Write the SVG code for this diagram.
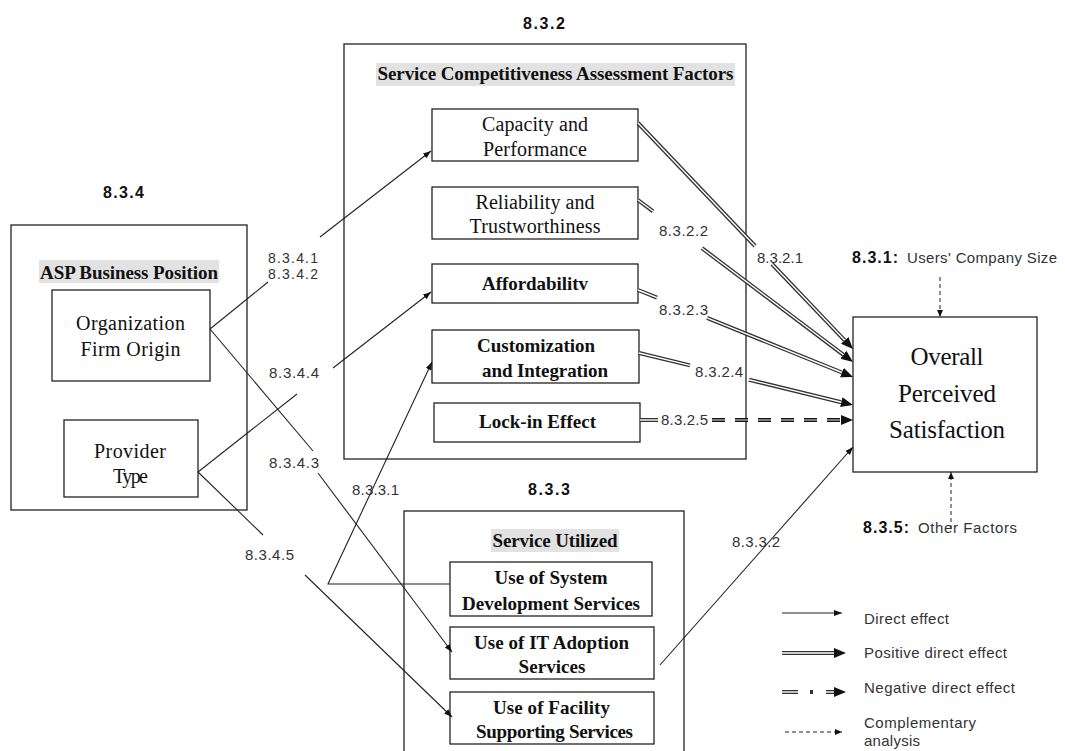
<svg xmlns="http://www.w3.org/2000/svg" width="1065" height="751" viewBox="0 0 1065 751">
  <style>
    .frame { fill: none; stroke: #222; stroke-width: 1.3; }
    .box { fill: #fff; stroke: #222; stroke-width: 1.3; }
    .hl { fill: #e2e2e2; }
    .serif { font-family: "Liberation Serif", "Times New Roman", serif; fill: #111; text-anchor: middle; }
    .sr { font-size: 20px; }
    .sb { font-size: 19px; font-weight: bold; }
    .big { font-size: 25px; }
    .title { font-family: "Liberation Sans", Arial, sans-serif; font-weight: bold; font-size: 16px; fill: #111; }
    .mid { text-anchor: middle; }
    .lbl { font-family: "Liberation Sans", Arial, sans-serif; font-size: 15px; fill: #333; }
    .lbs { font-family: "Liberation Sans", Arial, sans-serif; font-size: 14px; fill: #333; }
    .thin { fill: none; stroke: #222; stroke-width: 1.1; }
    .dblo { fill: none; stroke: #333; stroke-width: 4; }
    .dbli { fill: none; stroke: #fff; stroke-width: 1.4; }
    .nego { fill: none; stroke: #111; stroke-width: 4; stroke-dasharray: 13 10; }
    .negi { fill: none; stroke: #fff; stroke-width: 0.9; stroke-dasharray: 13 10; }
    .comp { fill: none; stroke: #222; stroke-width: 1; stroke-dasharray: 4 3; }
  </style>
  <defs>
    <!-- small head, tip sits on the path end -->
    <marker id="ah" markerUnits="userSpaceOnUse" markerWidth="9" markerHeight="7" refX="8" refY="3" orient="auto">
      <path d="M0,0 L8,3 L0,6 z" fill="#111"/>
    </marker>
    <!-- large head, base sits on the path end -->
    <marker id="ahBig" markerUnits="userSpaceOnUse" markerWidth="13" markerHeight="11" refX="0" refY="5" orient="auto">
      <path d="M0,0 L12,5 L0,10 z" fill="#111"/>
    </marker>
    <!-- head for the dashed complementary lines -->
    <marker id="ahs" markerUnits="userSpaceOnUse" markerWidth="8" markerHeight="7" refX="7" refY="3" orient="auto">
      <path d="M0,0 L7,3 L0,6 z" fill="#111"/>
    </marker>
  </defs>

  <rect width="1065" height="751" fill="#fff"/>

  <!-- 8.3.2 : service competitiveness factors -->
  <g id="sec-832">
    <text class="title mid" x="544" y="29" textLength="42">8.3.2</text>
    <rect class="frame" x="344" y="44" width="402" height="415"/>
    <rect class="hl" x="376" y="63" width="359" height="23"/>
    <text class="serif sb" x="555.5" y="80" textLength="356">Service Competitiveness Assessment Factors</text>
  </g>
  <g id="capacity">
    <rect class="box" x="432" y="109" width="206" height="52"/>
    <text class="serif sr" x="535" y="131" textLength="106">Capacity and</text>
    <text class="serif sr" x="535" y="156" textLength="104">Performance</text>
  </g>
  <g id="reliability">
    <rect class="box" x="432" y="187" width="206" height="52"/>
    <text class="serif sr" x="535" y="209" textLength="119">Reliability and</text>
    <text class="serif sr" x="535" y="233" textLength="131">Trustworthiness</text>
  </g>
  <g id="affordability">
    <rect class="box" x="432" y="264" width="206" height="39"/>
    <text class="serif sb" x="535" y="290" textLength="106">Affordabilitv</text>
  </g>
  <g id="customization">
    <rect class="box" x="432" y="330" width="207" height="53"/>
    <text class="serif sb" x="536" y="352" textLength="118">Customization</text>
    <text class="serif sb" x="545" y="377" textLength="126">and Integration</text>
  </g>
  <g id="lockin">
    <rect class="box" x="434" y="403" width="206" height="39"/>
    <text class="serif sb" x="537.5" y="428" textLength="117">Lock-in Effect</text>
  </g>

  <!-- 8.3.4 : ASP business position -->
  <g id="sec-834">
    <text class="title mid" x="123.5" y="198" textLength="41">8.3.4</text>
    <rect class="frame" x="11" y="225" width="236" height="285"/>
    <rect class="hl" x="39" y="260" width="180" height="23"/>
    <text class="serif sb" x="129" y="279" textLength="178">ASP Business Position</text>
  </g>
  <g id="organization">
    <rect class="box" x="52" y="290" width="158" height="91"/>
    <text class="serif sr" x="130.5" y="330" textLength="109">Organization</text>
    <text class="serif sr" x="130.5" y="356" textLength="100">Firm Origin</text>
  </g>
  <g id="provider">
    <rect class="box" x="64" y="420" width="134" height="77"/>
    <text class="serif sr" x="130" y="458" textLength="72">Provider</text>
    <text class="serif sr" x="130.5" y="483" textLength="35">Type</text>
  </g>

  <!-- 8.3.3 : service utilized -->
  <g id="sec-833">
    <text class="title mid" x="549" y="495" textLength="42">8.3.3</text>
    <rect class="frame" x="404" y="511" width="280" height="260"/>
    <rect class="hl" x="491" y="529" width="128" height="23"/>
    <text class="serif sb" x="555" y="547" textLength="125">Service Utilized</text>
  </g>
  <g id="use-sysdev">
    <rect class="box" x="450" y="562" width="202" height="54"/>
    <text class="serif sb" x="551" y="584" textLength="113">Use of System</text>
    <text class="serif sb" x="551" y="610" textLength="178">Development Services</text>
  </g>
  <g id="use-itadopt">
    <rect class="box" x="450" y="627" width="204" height="52"/>
    <text class="serif sb" x="551.5" y="649" textLength="155">Use of IT Adoption</text>
    <text class="serif sb" x="552" y="673" textLength="67">Services</text>
  </g>
  <g id="use-facility">
    <rect class="box" x="450" y="692" width="204" height="52"/>
    <text class="serif sb" x="551.5" y="714" textLength="117">Use of Facility</text>
    <text class="serif sb" x="554.5" y="738" textLength="157">Supporting Services</text>
  </g>

  <!-- outcome -->
  <g id="satisfaction">
    <rect class="box" x="853" y="317" width="184" height="155"/>
    <text class="serif big" x="947" y="365" textLength="73">Overall</text>
    <text class="serif big" x="947" y="402" textLength="98">Perceived</text>
    <text class="serif big" x="947" y="438" textLength="116">Satisfaction</text>
  </g>

  <!-- complementary factors -->
  <g id="company-size">
    <path class="comp" d="M940,277 L940,317" marker-end="url(#ahs)"/>
    <text class="title" x="852" y="263" textLength="46">8.3.1:</text>
    <text class="lbl" x="907" y="263" textLength="150">Users' Company Size</text>
  </g>
  <g id="other-factors">
    <path class="comp" d="M951,529 L951,472" marker-end="url(#ahs)"/>
    <text class="title" x="863" y="533" textLength="46">8.3.5:</text>
    <text class="lbl" x="918" y="533" textLength="99">Other Factors</text>
  </g>

  <g id="connectors">
    <!-- positive direct effects: factors to satisfaction -->
    <path class="dblo" d="M638,123 L755,246"/>
    <path class="dbli" d="M638,123 L755,246"/>
    <path class="dblo" d="M772,264 L844.7,340.3" marker-end="url(#ahBig)"/>
    <path class="dbli" d="M772,264 L844.7,340.3"/>

    <path class="dblo" d="M638,200 L653,211.3"/>
    <path class="dbli" d="M638,200 L653,211.3"/>
    <path class="dblo" d="M702,248.2 L843.4,354.8" marker-end="url(#ahBig)"/>
    <path class="dbli" d="M702,248.2 L843.4,354.8"/>

    <path class="dblo" d="M638,290 L657,297.7"/>
    <path class="dbli" d="M638,290 L657,297.7"/>
    <path class="dblo" d="M707,317.9 L841.9,372.5" marker-end="url(#ahBig)"/>
    <path class="dbli" d="M707,317.9 L841.9,372.5"/>

    <path class="dblo" d="M639,353 L690,365.4"/>
    <path class="dbli" d="M639,353 L690,365.4"/>
    <path class="dblo" d="M749,379.7 L841.3,402.2" marker-end="url(#ahBig)"/>
    <path class="dbli" d="M749,379.7 L841.3,402.2"/>

    <!-- negative direct effect: lock-in -->
    <path class="dblo" d="M640,420 L658,420"/>
    <path class="dbli" d="M640,420 L658,420"/>
    <path class="nego" d="M712,420 L841,420" marker-end="url(#ahBig)"/>
    <path class="negi" d="M712,420 L841,420"/>

    <!-- direct effects from business position -->
    <path class="thin" d="M210,329 L268,282"/>
    <path class="thin" d="M320,237 L431,151" marker-end="url(#ah)"/>
    <path class="thin" d="M198,472 L297,394"/>
    <path class="thin" d="M333,368 L431,292" marker-end="url(#ah)"/>
    <path class="thin" d="M210,329 L313,451"/>
    <path class="thin" d="M318,473 L452,652" marker-end="url(#ah)"/>
    <path class="thin" d="M198,472 L263,535"/>
    <path class="thin" d="M305,575 L452,717" marker-end="url(#ah)"/>

    <!-- direct effects from services utilized -->
    <path class="thin" d="M450,584 L328,584 L432,362" marker-end="url(#ah)"/>
    <path class="thin" d="M660,665 L853,447" marker-end="url(#ah)"/>

    <!-- path labels -->
    <text class="lbl" x="757" y="263" textLength="46">8.3.2.1</text>
    <text class="lbl" x="659" y="236" textLength="49">8.3.2.2</text>
    <text class="lbl" x="659" y="315" textLength="49">8.3.2.3</text>
    <text class="lbl" x="695" y="377" textLength="48">8.3.2.4</text>
    <text class="lbl" x="661" y="425" textLength="47">8.3.2.5</text>
    <text class="lbs" x="268" y="263" textLength="50">8.3.4.1</text>
    <text class="lbs" x="268" y="279" textLength="50">8.3.4.2</text>
    <text class="lbl" x="269" y="378" textLength="50">8.3.4.4</text>
    <text class="lbl" x="269" y="468" textLength="50">8.3.4.3</text>
    <text class="lbl" x="245" y="560" textLength="49">8.3.4.5</text>
    <text class="lbl" x="352" y="495" textLength="47">8.3.3.1</text>
    <text class="lbl" x="732" y="547" textLength="48">8.3.3.2</text>
  </g>

  <!-- key -->
  <g id="legend">
    <path class="thin" d="M782,613 L842,613" marker-end="url(#ah)"/>
    <text class="lbl" x="864" y="624" textLength="85">Direct effect</text>

    <path class="dblo" d="M782,653 L834,653" marker-end="url(#ahBig)"/>
    <path class="dbli" d="M782,653 L834,653"/>
    <text class="lbl" x="864" y="658" textLength="143">Positive direct effect</text>

    <path class="dblo" d="M782,692 L798,692"/>
    <path class="dbli" d="M782,692 L798,692"/>
    <path class="dblo" d="M810,692 L813,692"/>
    <path class="dblo" d="M826,692 L834,692" marker-end="url(#ahBig)"/>
    <path class="dbli" d="M826,692 L834,692"/>
    <text class="lbl" x="864" y="693" textLength="151">Negative direct effect</text>

    <path class="comp" d="M785,732 L842,732" marker-end="url(#ahs)"/>
    <text class="lbl" x="864" y="728" textLength="112">Complementary</text>
    <text class="lbl" x="864" y="746" textLength="56">analysis</text>
  </g>
</svg>
